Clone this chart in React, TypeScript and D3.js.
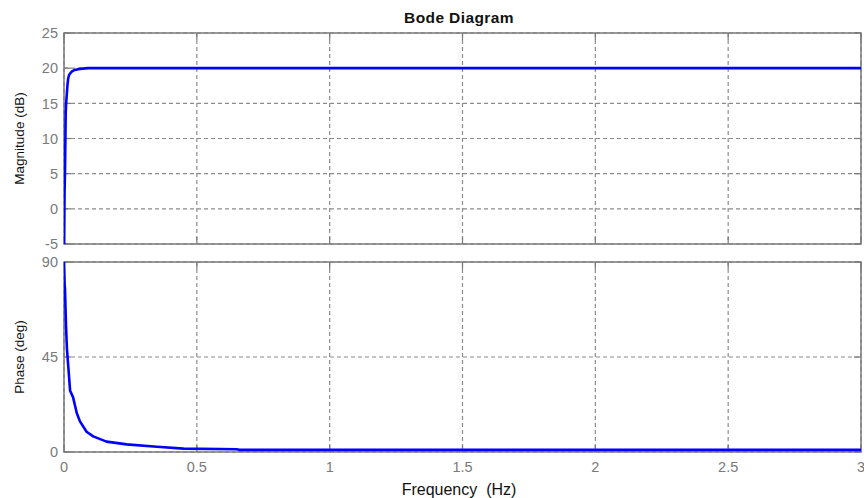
import React from "react";
import * as d3 from "d3";

// Frequency samples (Hz) and the responses read at each one
const magFreq = [0.0005, 0.002, 0.004, 0.0064, 0.008, 0.010, 0.013, 0.016, 0.020, 0.029, 0.040, 0.060, 0.090, 0.15, 0.5, 1.0, 1.5, 2.0, 2.5, 3.0];
const magnitudeDb = [-6, 2, 6, 13.6, 15, 16, 17.6, 18.6, 19.1, 19.5, 19.75, 19.9, 20, 20, 20, 20, 20, 20, 20, 20];

const phaseFreq = [0.0002, 0.0025, 0.0038, 0.0075, 0.011, 0.020, 0.023, 0.034, 0.048, 0.060, 0.085, 0.11, 0.16, 0.236, 0.35, 0.45, 0.65, 0.66, 1.0, 2.0, 3.0];
const phaseDeg = [90, 79, 77, 60, 49, 34, 29, 26, 18.5, 14.5, 9.6, 7.4, 4.9, 3.6, 2.5, 1.6, 1.3, 1.0, 1.0, 1.0, 1.0];

const freqTicks = [0, 0.5, 1, 1.5, 2, 2.5, 3];
const magTicks = [-5, 0, 5, 10, 15, 20, 25];
const phaseTicks = [0, 45, 90];

const W = 864;
const H = 498;
const left = 64;
const right = 861;
const magTop = 33;
const magBottom = 244;
const phTop = 262;
const phBottom = 452;

const gridColor = "#8c8c8c";
const frameColor = "#7a7a7a";
const tickText = "#7a7a7a";
const font = "'Liberation Sans', Arial, sans-serif";

export default function App() {
  const x = d3.scaleLinear().domain([0, 3]).range([left, right]);
  const yMag = d3.scaleLinear().domain([-5, 25]).range([magBottom, magTop]);
  const yPh = d3.scaleLinear().domain([0, 90]).range([phBottom, phTop]);

  const magLine = d3
    .line<number>()
    .x((_, i) => x(magFreq[i]))
    .y((d) => yMag(d))(magnitudeDb) as string;
  const phLine = d3
    .line<number>()
    .x((_, i) => x(phaseFreq[i]))
    .y((d) => yPh(d))(phaseDeg) as string;

  const panel = (
    top: number,
    bottom: number,
    y: d3.ScaleLinear<number, number>,
    ticks: number[],
    clipId: string,
    path: string,
    showX: boolean
  ) => (
    <g>
      <defs>
        <clipPath id={clipId}>
          <rect x={left} y={top} width={right - left} height={bottom - top} />
        </clipPath>
      </defs>
      <rect x={left} y={top} width={right - left} height={bottom - top} fill="#fff" />
      {/* grid */}
      {freqTicks.map((t) => (
        <line
          key={"vx" + t}
          x1={x(t)}
          x2={x(t)}
          y1={top}
          y2={bottom}
          stroke={gridColor}
          strokeWidth={1.2}
          strokeDasharray="4,3"
        />
      ))}
      {ticks.map((t) => (
        <line
          key={"hy" + t}
          x1={left}
          x2={right}
          y1={y(t)}
          y2={y(t)}
          stroke={gridColor}
          strokeWidth={1.2}
          strokeDasharray="4,3"
        />
      ))}
      {/* frame */}
      <rect
        x={left}
        y={top}
        width={right - left}
        height={bottom - top}
        fill="none"
        stroke={frameColor}
        strokeWidth={1.5}
      />
      {/* y ticks */}
      {ticks.map((t) => (
        <g key={"yt" + t}>
          <line x1={left} x2={left + 7} y1={y(t)} y2={y(t)} stroke={frameColor} strokeWidth={1.2} />
          <line x1={right} x2={right - 7} y1={y(t)} y2={y(t)} stroke={frameColor} strokeWidth={1.2} />
          <text
            x={left - 6}
            y={y(t)}
            dy="0.36em"
            textAnchor="end"
            fontSize={14.5}
            fill={tickText}
            fontFamily={font}
          >
            {t}
          </text>
        </g>
      ))}
      {/* x ticks */}
      {freqTicks.map((t) => (
        <g key={"xt" + t}>
          <line x1={x(t)} x2={x(t)} y1={bottom} y2={bottom - 7} stroke={frameColor} strokeWidth={1.2} />
          <line x1={x(t)} x2={x(t)} y1={top} y2={top + 7} stroke={frameColor} strokeWidth={1.2} />
          {showX && (
            <text
              x={x(t)}
              y={bottom + 20}
              textAnchor="middle"
              fontSize={14.5}
              fill={tickText}
              fontFamily={font}
            >
              {t}
            </text>
          )}
        </g>
      ))}
      <path
        d={path}
        fill="none"
        stroke="#0000ff"
        strokeWidth={2.6}
        strokeLinejoin="round"
        clipPath={`url(#${clipId})`}
      />
    </g>
  );

  return (
    <svg
      width={W}
      height={H}
      style={{ position: "absolute", left: 0, top: 0, background: "#fff" }}
    >
      <rect x={0} y={0} width={W} height={H} fill="#fff" />
      <text
        x={459}
        y={23}
        textAnchor="middle"
        fontSize={15.5}
        fontWeight="bold"
        fill="#111"
        fontFamily={font}
        letterSpacing={0.4}
      >
        Bode Diagram
      </text>
      {panel(magTop, magBottom, yMag, magTicks, "clipMag", magLine, false)}
      {panel(phTop, phBottom, yPh, phaseTicks, "clipPh", phLine, true)}
      <text
        transform={`translate(24, ${(magTop + magBottom) / 2}) rotate(-90)`}
        textAnchor="middle"
        fontSize={13.5}
        fill="#111"
        fontFamily={font}
      >
        Magnitude (dB)
      </text>
      <text
        transform={`translate(24, ${(phTop + phBottom) / 2}) rotate(-90)`}
        textAnchor="middle"
        fontSize={13.5}
        fill="#111"
        fontFamily={font}
      >
        Phase (deg)
      </text>
      <text
        x={459}
        y={495}
        textAnchor="middle"
        fontSize={16}
        fill="#111"
        fontFamily={font}
        style={{ whiteSpace: "pre" }}
      >
        {"Frequency  (Hz)"}
      </text>
    </svg>
  );
}
